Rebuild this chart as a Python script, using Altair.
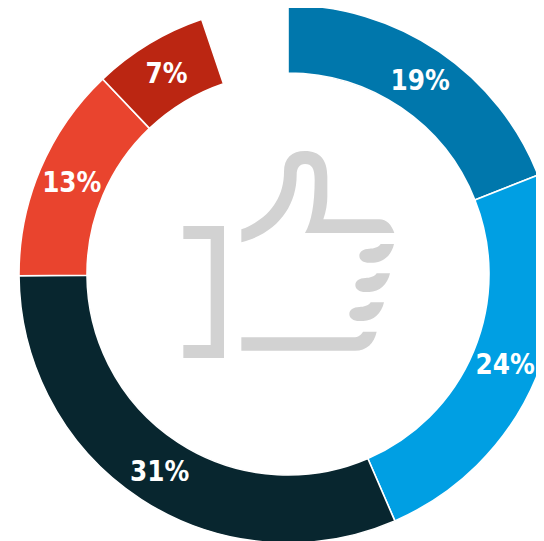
import altair as alt
import pandas as pd

# Share of each slice (percent of the full circle)
categories = ["a", "b", "c", "d", "e"]
values = [19.0, 24.5, 31.4, 13.0, 6.9]
labels = ["19%", "24%", "31%", "13%", "7%"]
colors = ["#0077AC", "#009FE3", "#08262F", "#E9442E", "#BB2612"]
order = [0, 1, 2, 3, 4]

CX, CY = 280, 266
ICON_GREY = "#D2D2D2"

# Thumbs-up pictogram (decoration), drawn in a 3x grid
finger = "M{0} {1}L{2} {1}C{3} {4} {5} {6} {7} {6}C{8} {6} {9} {10} {9} {11}C{9} {12} {8} {13} {7} {13}L{14} {13}C{15} {13} {16} {17} {0} {1}Z"
def finger_path(dx, dy):
    def X(v): return v + dx
    def Y(v): return v + dy
    return finger.format(X(672), Y(312), X(632), X(625), Y(322), X(612), Y(326), X(598), X(580), X(568), Y(335), Y(347), Y(360), Y(368), X(610), X(640), X(665), Y(345))

icon = (
    "M40 258L162 258L162 654L40 654L40 615L122 615L122 297L40 297Z"
    "M214 268C290 240 342 180 342 95C342 55 365 33 405 33C450 33 472 60 472 110L472 170"
    "C472 190 468 215 460 238L628 238C650 238 665 255 673 279L405 279"
    "C425 245 434 190 434 120C434 85 425 72 405 72C388 72 380 85 380 105C380 200 320 280 214 307Z"
    + finger_path(0, 0) + finger_path(-12, 88) + finger_path(-30, 175) +
    "M214 592L550 592C565 592 573 585 579 575L620 575C612 610 590 632 555 632L214 632Z"
)

df = pd.DataFrame({"cat": categories, "value": values, "label": labels, "o": order})

theta = alt.Theta("value:Q", stack=True, scale=alt.Scale(domain=[0, 100]))
base = alt.Chart(df).encode(
    theta=theta,
    order=alt.Order("o:Q"),
    x=alt.value(CX),
    y=alt.value(CY),
)

arcs = base.mark_arc(innerRadius=201, outerRadius=269, stroke="white", strokeWidth=1.6).encode(
    color=alt.Color("cat:N", scale=alt.Scale(domain=categories, range=colors), legend=None)
)
text = base.mark_text(
    radius=235, font="DejaVu Sans Condensed", fontWeight="bold", fontSize=27.5, color="white",
    align="center", baseline="middle", dy=2,
).encode(text="label:N")

thumb = alt.Chart(pd.DataFrame({"k": [0]})).mark_point(
    shape=icon, filled=True, size=4 / 9, color=ICON_GREY, opacity=1
).encode(x=alt.value(162), y=alt.value(132))

chart = alt.layer(arcs, text, thumb).properties(
    width=528, height=533, padding=0,
    autosize=alt.AutoSizeParams(type="none"),
).configure_view(stroke=None)

chart.save("out.html", embed_options={"renderer": "svg", "actions": False})
